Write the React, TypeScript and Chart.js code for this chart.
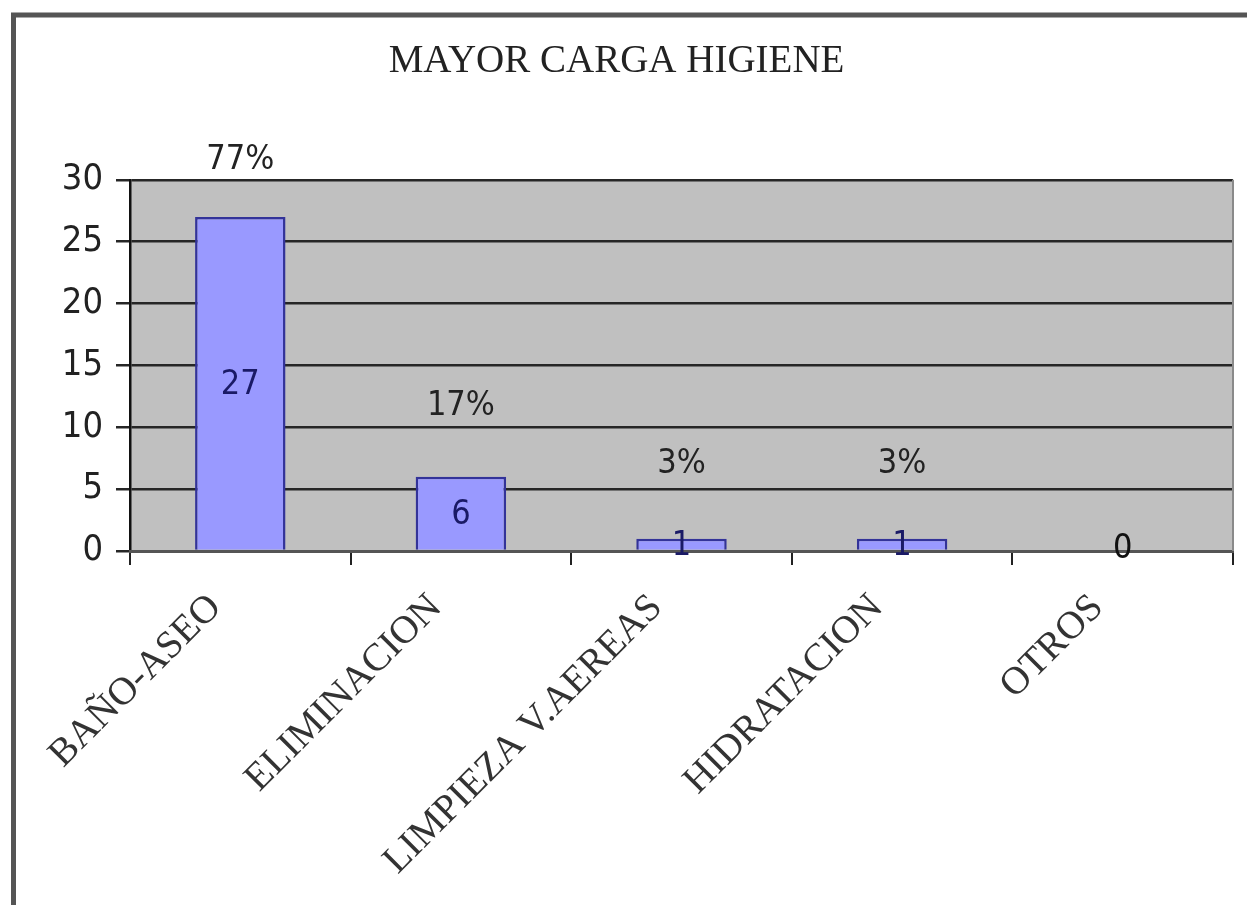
import React, { useEffect, useRef } from "react";
import { Chart, registerables } from "chart.js";

Chart.register(...registerables);

const TITLE = "MAYOR CARGA HIGIENE";
const categories = ["BAÑO-ASEO", "ELIMINACION", "LIMPIEZA V.AEREAS", "HIDRATACION", "OTROS"];
const values = [27, 6, 1, 1, 0];
const percentLabels = ["77%", "17%", "3%", "3%", ""];
const yTicks = [0, 5, 10, 15, 20, 25, 30];

const NUM_FONT = "'DejaVu Sans Condensed', 'DejaVu Sans', sans-serif";
const SERIF_FONT = "'Liberation Serif', 'Times New Roman', serif";

const framePlugin = {
  id: "framePlugin",
  beforeDraw(chart: any) {
    const { ctx, chartArea, width, height } = chart;
    ctx.save();
    ctx.fillStyle = "#ffffff";
    ctx.fillRect(0, 0, width, height);
    ctx.strokeStyle = "#555555";
    ctx.lineWidth = 5;
    ctx.strokeRect(13.5, 15, width + 40, height + 40);
    ctx.fillStyle = "#c0c0c0";
    ctx.fillRect(chartArea.left, chartArea.top, chartArea.right - chartArea.left, chartArea.bottom - chartArea.top);
    ctx.restore();
  },
  beforeDatasetsDraw(chart: any) {
    const { ctx, chartArea } = chart;
    ctx.save();
    ctx.strokeStyle = "#8a8a8a";
    ctx.lineWidth = 2;
    ctx.beginPath();
    ctx.moveTo(chartArea.right, chartArea.top);
    ctx.lineTo(chartArea.right, chartArea.bottom);
    ctx.stroke();
    ctx.restore();
  },
};

const labelPlugin = {
  id: "labelPlugin",
  afterDatasetsDraw(chart: any) {
    const { ctx } = chart;
    const meta = chart.getDatasetMeta(0);
    ctx.save();
    ctx.textAlign = "center";
    ctx.textBaseline = "middle";
    ctx.font = `34px ${NUM_FONT}`;
    meta.data.forEach((bar: any, i: number) => {
      const v = values[i];
      const mid = (bar.y + bar.base) / 2;
      ctx.fillStyle = v === 0 ? "#111111" : "#1a1a66";
      ctx.fillText(String(v), bar.x, v === 0 ? bar.base - 2 : mid + 2);
      const p = percentLabels[i];
      if (p) {
        const h = bar.base - bar.y;
        const off = 75 - 0.055 * h;
        ctx.fillStyle = "#222222";
        ctx.fillText(p, bar.x, bar.y - off);
      }
    });
    ctx.restore();
  },
};

export default function App() {
  const ref = useRef<HTMLCanvasElement>(null);

  useEffect(() => {
    if (!ref.current) return;
    const chart = new Chart(ref.current, {
      type: "bar",
      data: {
        labels: categories,
        datasets: [
          {
            data: values,
            backgroundColor: "#9999ff",
            borderColor: "#333399",
            borderWidth: 2.5,
            barPercentage: 0.41,
            categoryPercentage: 1,
          },
        ],
      },
      options: {
        animation: false,
        responsive: false,
        events: [],
        layout: { padding: { left: 0, right: 14, top: 0, bottom: 0 } },
        plugins: {
          legend: { display: false },
          tooltip: { enabled: false },
          title: {
            display: true,
            text: TITLE,
            color: "#222222",
            font: { family: SERIF_FONT, size: 39, weight: "normal", lineHeight: 1.2 },
            padding: { top: 38, bottom: 95 },
          },
        },
        scales: {
          y: {
            min: 0,
            max: 30,
            afterFit(scale: any) {
              scale.width = 130;
            },
            afterBuildTicks(scale: any) {
              scale.ticks = yTicks.map((v) => ({ value: v }));
            },
            ticks: {
              color: "#222222",
              font: { family: NUM_FONT, size: 36 },
              padding: 13,
            },
            grid: {
              color: "#262626",
              lineWidth: 2.5,
              drawTicks: true,
              tickLength: 14,
            },
            border: { display: true, color: "#111111", width: 2.5 },
          },
          x: {
            afterFit(scale: any) {
              scale.height = 354;
            },
            ticks: {
              color: "#333333",
              font: { family: SERIF_FONT, size: 39 },
              minRotation: 45,
              maxRotation: 45,
              autoSkip: false,
              padding: 20,
              labelOffset: -25,
            },
            grid: {
              offset: true,
              drawOnChartArea: false,
              drawTicks: true,
              tickLength: 14,
              color: "#222222",
              lineWidth: 2,
            },
            border: { display: true, color: "#555555", width: 3 },
          },
        },
      },
      plugins: [framePlugin, labelPlugin],
    });
    return () => chart.destroy();
  }, []);

  return (
    <div style={{ position: "absolute", left: 0, top: 0, width: 1247, height: 905 }}>
      <canvas ref={ref} width={1247} height={905} style={{ display: "block" }} />
    </div>
  );
}
